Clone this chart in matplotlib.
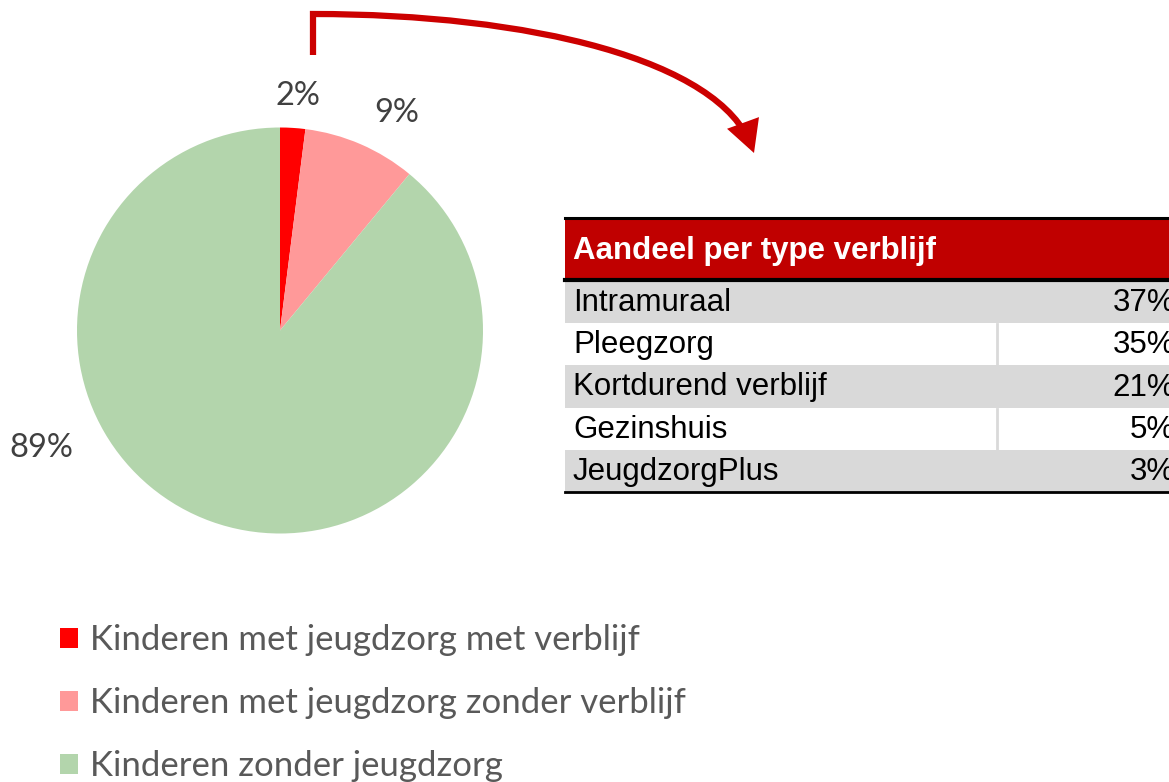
import matplotlib
matplotlib.use("Agg")
import matplotlib.pyplot as plt
from matplotlib.patches import Rectangle, FancyArrowPatch
from matplotlib.path import Path
from matplotlib import font_manager

# pie data
pie_labels = ["Kinderen met jeugdzorg met verblijf",
              "Kinderen met jeugdzorg zonder verblijf",
              "Kinderen zonder jeugdzorg"]
pie_values = [2, 9, 89]
pie_colors = ["#FF0000", "#FF9999", "#B3D5AC"]

# table data
table_title = "Aandeel per type verblijf"
stay_types = ["Intramuraal", "Pleegzorg", "Kortdurend verblijf", "Gezinshuis", "JeugdzorgPlus"]
stay_shares = [37, 35, 21, 5, 3]

names = set(f.name for f in font_manager.fontManager.ttflist)
narrow = "Liberation Sans Narrow" if "Liberation Sans Narrow" in names else "Liberation Sans"
body = "Lato"

W, H = 1169, 782
fig = plt.figure(figsize=(W / 100, H / 100), dpi=100)
ax = fig.add_axes([0, 0, 1, 1])

def Y(y):
    return H - y

# pie
cx, cy, r = 280, 330.5, 203
wedges, _ = ax.pie(pie_values, colors=pie_colors, startangle=90, counterclock=False,
                   center=(cx, Y(cy)), radius=r, frame=True)
ax.set_xlim(0, W)
ax.set_ylim(0, H)
ax.set_aspect("equal")
ax.axis("off")

lab_pos = [(298, 96), (397, 113), (41, 448)]
for v, (x, y) in zip(pie_values, lab_pos):
    ax.text(x, Y(y), f"{v}%", ha="center", va="center", fontsize=23.5,
            color="#404040", family=body)

# arrow
verts = [(313, 55), (313, 14), (530, 14), (720, 60), (754, 153)]
verts = [(x, Y(y)) for x, y in verts]
codes = [Path.MOVETO, Path.LINETO, Path.CURVE4, Path.CURVE4, Path.CURVE4]
arrow = FancyArrowPatch(path=Path(verts, codes), arrowstyle="-|>,head_length=16,head_width=8.5",
                        color="#CC0000", lw=4.5, mutation_scale=1, joinstyle="miter",
                        capstyle="butt")
ax.add_patch(arrow)

# table
tx0, tx1 = 565, 1175
ax.add_patch(Rectangle((tx0, Y(279)), tx1 - tx0, 61, color="#C00000", lw=0))
ax.plot([tx0, tx1], [Y(217.5), Y(217.5)], color="black", lw=2.2)
ax.plot([tx0, tx1], [Y(279.5), Y(279.5)], color="black", lw=3)
ax.text(573, Y(251), table_title, color="white", fontsize=22.5, fontweight="bold",
        family=narrow, va="center", ha="left")
row_top = 281
row_h = 42.2
for i, (name, val) in enumerate(zip(stay_types, stay_shares)):
    top = row_top + i * row_h
    if i % 2 == 0:
        ax.add_patch(Rectangle((tx0, Y(top + row_h)), tx1 - tx0, row_h, color="#D9D9D9", lw=0))
    else:
        ax.plot([997, 997], [Y(top + 1), Y(top + row_h - 1)], color="#D9D9D9", lw=2)
    ax.text(573, Y(top + row_h / 2 + 1), name, fontsize=22.5, family=narrow,
            va="center", ha="left", color="black")
    ax.text(1175, Y(top + row_h / 2 + 1), f"{val}%", fontsize=22.5, family=narrow,
            va="center", ha="right", color="black")
ax.plot([tx0, tx1], [Y(492), Y(492)], color="black", lw=2)

# legend
ax.legend(wedges, pie_labels, loc="upper left", bbox_to_anchor=(60 / W, 1 - 624 / H),
          frameon=False, prop={"family": body, "size": 25}, labelcolor="#595959",
          handlelength=0.52, handleheight=0.52, handletextpad=0.35, labelspacing=0.9,
          borderaxespad=0, borderpad=0)

fig.savefig("out.png", dpi=100)
